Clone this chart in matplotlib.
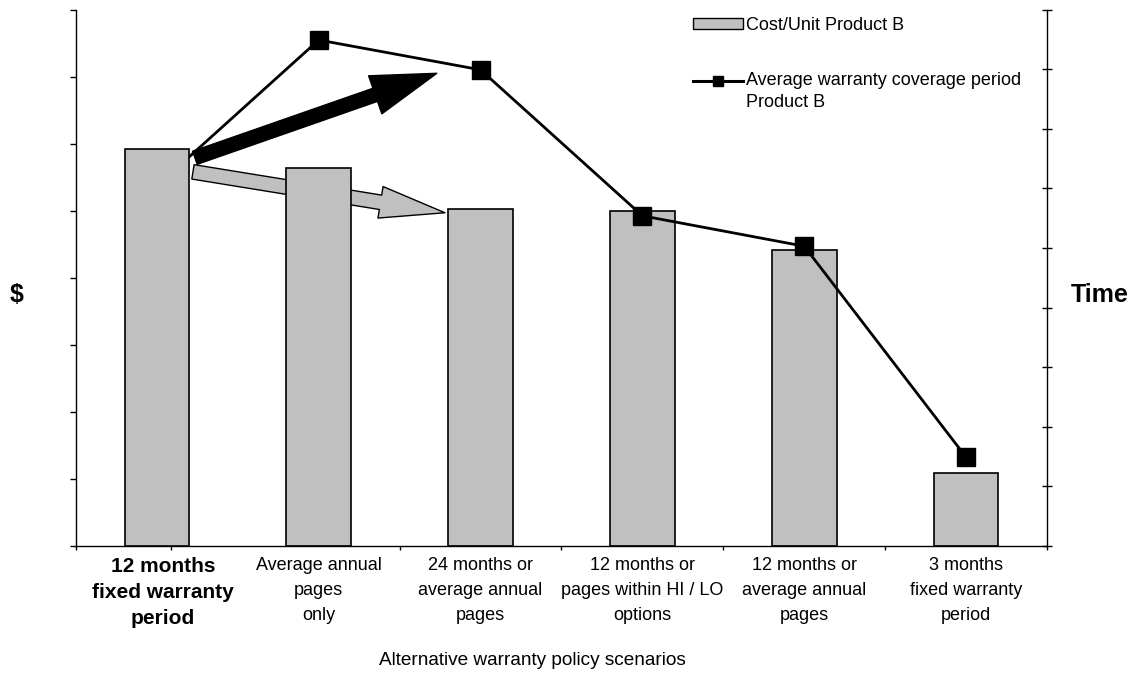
import numpy as np
import matplotlib
matplotlib.use("Agg")
import matplotlib.pyplot as plt
from matplotlib.patches import Patch
from matplotlib.lines import Line2D
from matplotlib.transforms import ScaledTranslation
from matplotlib.legend_handler import HandlerLine2D

# ---- data -------------------------------------------------------------
categories = [
    "12 months\nfixed warranty\nperiod",
    "Average annual\npages\nonly",
    "24 months or\naverage annual\npages",
    "12 months or\npages within HI / LO\noptions",
    "12 months or\naverage annual\npages",
    "3 months\nfixed warranty\nperiod",
]
cost_per_unit = [5.92, 5.64, 5.03, 5.00, 4.41, 1.09]          # left axis ($)
coverage_period = [6.04, 8.49, 7.99, 5.54, 5.03, 1.49]        # right axis (Time)
bar_label = "Cost/Unit Product B"
line_label = "Average warranty coverage period\nProduct B"
x_title = "Alternative warranty policy scenarios"

plt.rcParams["font.family"] = ["Liberation Sans", "DejaVu Sans"]

fig = plt.figure(figsize=(11.44, 6.86), dpi=100)
ax = fig.add_axes([0.0664, 0.2041, 0.8488, 0.7819])
ax2 = ax.twinx()

x = np.arange(len(categories))
bars = ax.bar(x, cost_per_unit, width=0.40, color="#C0C0C0",
              edgecolor="black", linewidth=1.2, zorder=2)
bars[0].set_zorder(4)
ax.plot(x, coverage_period, transform=ax2.transData, color="black",
        lw=2, marker="s", ms=13, zorder=3)

ax.set_xlim(-0.5, 5.5)
ax.set_ylim(0, 8)
ax2.set_ylim(0, 9)

# y ticks (no labels)
ax.set_yticks(range(9))
ax.set_yticklabels([])
ax.tick_params(axis="y", direction="out", length=4.3, width=1)
ax2.set_yticks(range(10))
ax2.set_yticklabels([])
ax2.tick_params(axis="y", direction="inout", length=7.2, width=1)

# x ticks
ax.set_xticks(x)
ax.set_xticklabels(categories, fontsize=13, linespacing=1.6)
ax.tick_params(axis="x", which="major", length=0, pad=8)
ax.set_xticks([-0.5, 0.09, 1.5, 2.5, 3.5, 4.5, 5.5], minor=True)
ax.tick_params(axis="x", which="minor", direction="out", length=3, width=1)
lbl0 = ax.get_xticklabels()[0]
lbl0.set_fontweight("bold")
lbl0.set_fontsize(15)
lbl0.set_linespacing(1.45)
lbl0.set_transform(lbl0.get_transform() + ScaledTranslation(6 / 100, 0, fig.dpi_scale_trans))

for s in ["top", "right"]:
    ax.spines[s].set_visible(False)
for s in ["top", "left", "bottom"]:
    ax2.spines[s].set_visible(False)
for a in (ax, ax2):
    for s in a.spines.values():
        s.set_linewidth(1)
        s.set_color("black")

ax.set_ylabel("$", rotation=0, fontsize=18, fontweight="bold",
              va="center", ha="center")
ax.yaxis.set_label_coords(-0.0608, 0.468)
ax2.set_ylabel("Time", rotation=0, fontsize=18, fontweight="bold",
               va="center", ha="center")
ax2.yaxis.set_label_coords(1.0546, 0.468)
ax.set_xlabel(x_title, fontsize=13.7, va="center")
ax.xaxis.set_label_coords(0.4696, -0.2144)

# annotation arrows
ax.annotate("", xy=(1.78, 4.97), xytext=(0.223, 5.58),
            arrowprops=dict(arrowstyle="simple,head_length=47,head_width=23,tail_width=10.5",
                            mutation_scale=1, fc="#C0C0C0", ec="black", lw=1,
                            shrinkA=0, shrinkB=0),
            zorder=1)
ax.annotate("", xy=(1.73, 7.05), xytext=(0.235, 5.79),
            arrowprops=dict(arrowstyle="simple,head_length=47,head_width=29,tail_width=10",
                            mutation_scale=1, fc="black", ec="black", lw=1,
                            shrinkA=0, shrinkB=0),
            zorder=5)


class RaisedLineHandler(HandlerLine2D):
    """Align the line handle with the first line of a two-line label."""
    def create_artists(self, legend, orig_handle, xdescent, ydescent,
                       width, height, fontsize, trans):
        shift = ScaledTranslation(0, 11 / 100, fig.dpi_scale_trans)
        return super().create_artists(legend, orig_handle, xdescent, ydescent,
                                      width, height, fontsize, trans + shift)


line_handle = Line2D([], [], color="black", lw=2.2, marker="s", ms=7)
handles = [Patch(facecolor="#C0C0C0", edgecolor="black", linewidth=1), line_handle]
leg = fig.legend(handles, [bar_label, line_label], loc="upper left",
                 bbox_to_anchor=(693 / 1144, 1 - 17 / 686), frameon=False,
                 fontsize=13, handlelength=2.77, handleheight=0.55,
                 handletextpad=0.15, labelspacing=2.13, borderpad=0,
                 borderaxespad=0,
                 handler_map={line_handle: RaisedLineHandler()})
leg.get_texts()[1].set_linespacing(1.35)

fig.savefig("out.png", dpi=100)
